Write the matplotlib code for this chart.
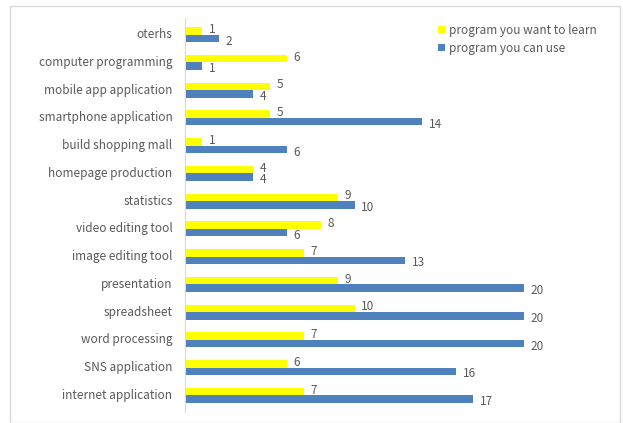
import matplotlib

matplotlib.use("Agg")
import matplotlib.pyplot as plt  # noqa: E402
from matplotlib.patches import Rectangle  # noqa: E402
import numpy as np  # noqa: E402

plt.rcParams["font.family"] = ["Noto Sans CJK KR", "DejaVu Sans"]

# top to bottom as drawn
CATEGORIES = [
    "oterhs",
    "computer programming",
    "mobile app application",
    "smartphone application",
    "build shopping mall",
    "homepage production",
    "statistics",
    "video editing tool",
    "image editing tool",
    "presentation",
    "spreadsheet",
    "word processing",
    "SNS application",
    "internet application",
]
WANT_TO_LEARN = [1, 6, 5, 5, 1, 4, 9, 8, 7, 9, 10, 7, 6, 7]
CAN_USE = [2, 1, 4, 14, 6, 4, 10, 6, 13, 20, 20, 20, 16, 17]

YELLOW = "#ffff00"
BLUE = "#4f81bd"
TEXT = "#595959"

W, H = 623, 423
fig = plt.figure(figsize=(W / 100, H / 100), dpi=100)

# light chart frame
fig.patches.append(Rectangle((10 / W, 0), 610 / W, 1 - 6 / H, transform=fig.transFigure,
                             fill=False, edgecolor="#d9d9d9", linewidth=1))

ax = fig.add_axes([185 / W, 1 - 412 / H, 390 / W, 394 / H])

y = np.arange(len(CATEGORIES))
bh = 0.27
ax.barh(y - bh / 2, WANT_TO_LEARN, height=bh, color=YELLOW, label="program you want to learn")
ax.barh(y + bh / 2, CAN_USE, height=bh, color=BLUE, label="program you can use")

for yi, v in zip(y, WANT_TO_LEARN):
    ax.text(v + 0.4, yi - bh * 0.7, str(v), color=TEXT, fontsize=8.5, va="center", ha="left")
for yi, v in zip(y, CAN_USE):
    ax.text(v + 0.4, yi + bh * 0.85, str(v), color=TEXT, fontsize=8.5, va="center", ha="left")

ax.set_xlim(0, 23)
ax.set_ylim(13.6, -0.6)
ax.set_yticks(y - 0.05)
ax.set_yticklabels(CATEGORIES, color=TEXT, fontsize=8.5)
ax.set_xticks([])
ax.tick_params(axis="y", length=0, pad=9)
for s in ("top", "right", "bottom"):
    ax.spines[s].set_visible(False)
ax.spines["left"].set_color("#d9d9d9")

leg = ax.legend(loc="upper left", bbox_to_anchor=(432 / W, 1 - 18 / H), bbox_transform=fig.transFigure,
                frameon=False, fontsize=8.5, handlelength=0.6, handleheight=0.6,
                handletextpad=0.3, labelspacing=0.4, borderpad=0)
for t in leg.get_texts():
    t.set_color(TEXT)

fig.savefig("out.png", dpi=100)
